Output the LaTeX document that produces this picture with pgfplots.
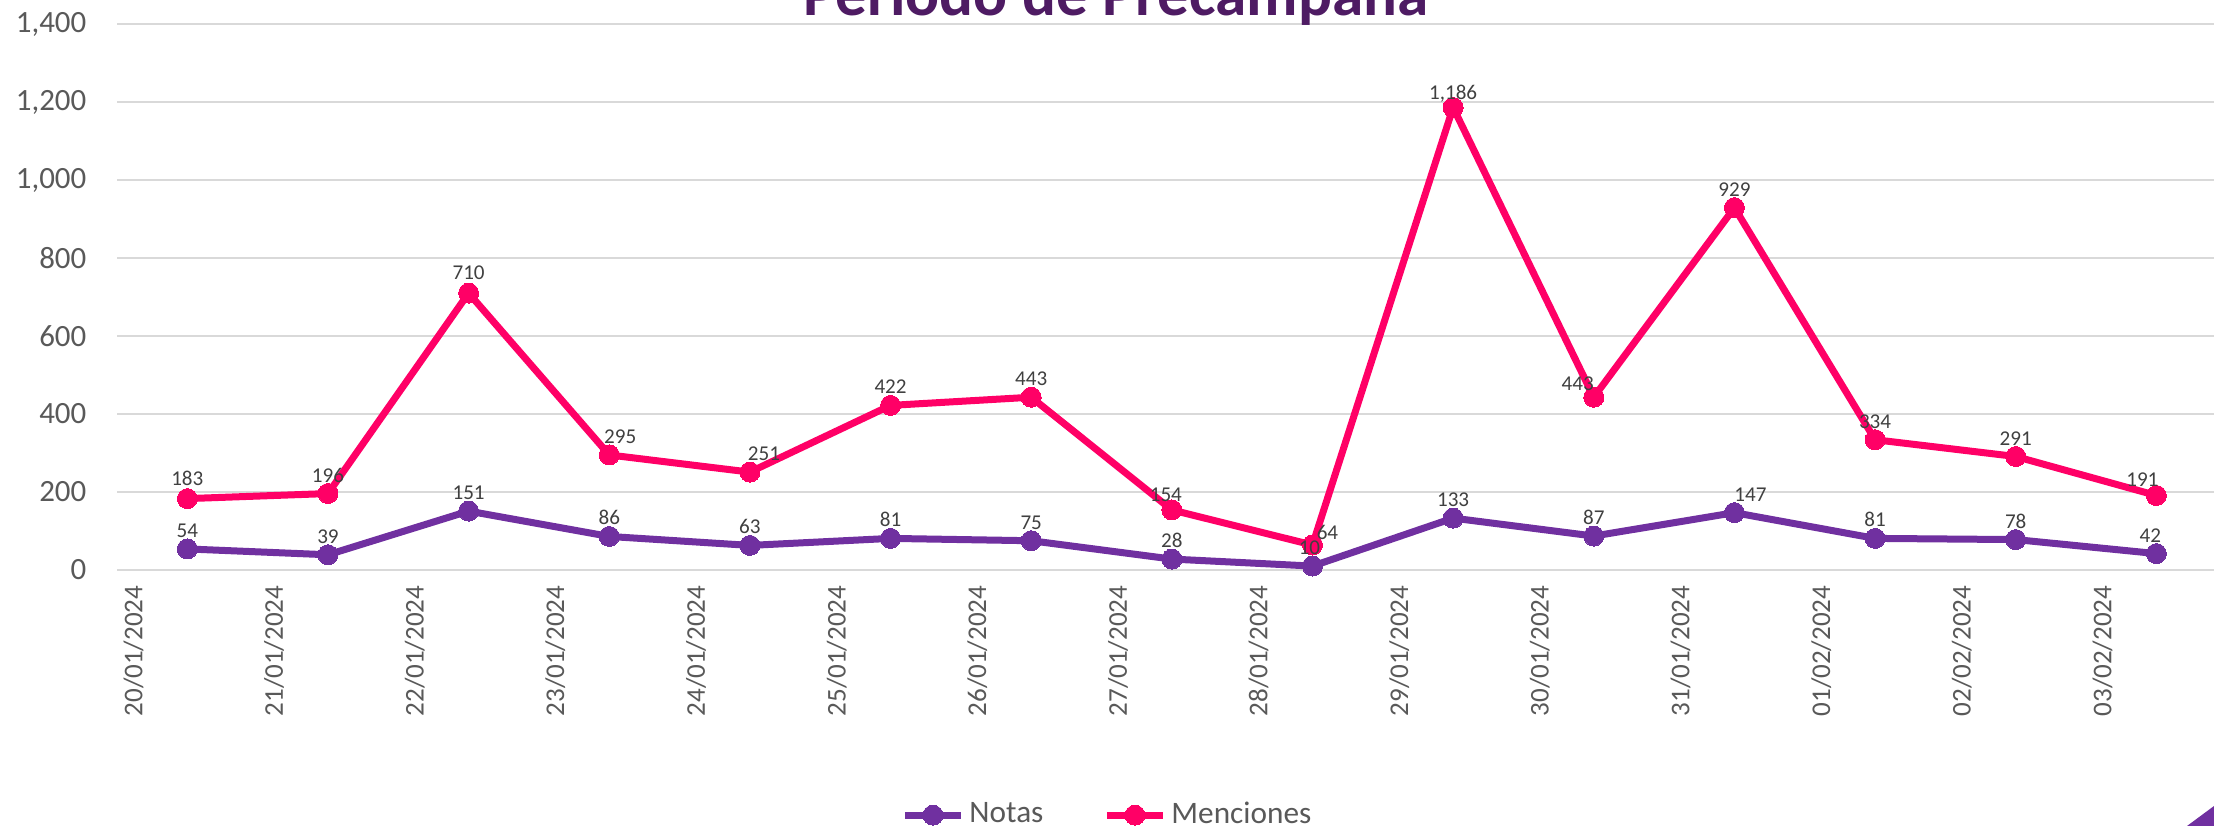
\documentclass[border=0pt]{standalone}
\usepackage{fontspec}
\setmainfont{Carlito}
\usepackage{pgfplots}
\usepackage{pgfplotstable}
\pgfplotsset{compat=1.18}
\definecolor{notas}{HTML}{7030A0}
\definecolor{menc}{HTML}{FF0066}
\definecolor{gridc}{HTML}{D9D9D9}
\definecolor{tickc}{HTML}{595959}
\definecolor{labc}{HTML}{404040}
\definecolor{titc}{HTML}{4E1B63}

\pgfplotstableread{
x y dx dy
0 54 0 0
1 39 0 0
2 151 0 0
3 86 0 0
4 63 0 0
5 81 0 0
6 75 0 0
7 28 0 0
8 10 -0.3 0
9 133 0 0
10 87 0 0
11 147 1.6 0
12 81 0 0
13 78 0 0
14 42 -0.6 0
}\notastab

\pgfplotstableread{
x y dx dy
0 183 0 0.2
1 196 0 0
2 710 0 0.2
3 295 1.1 0
4 251 1.4 0
5 422 0 0
6 443 0 0
7 154 -0.6 -0.3
8 64 1.5 -0.6
9 1186 0 -0.4
10 443 -1.6 -0.5
11 929 0 0
12 334 0 0
13 291 0 0
14 191 -1.4 -0.3
}\menctab

\begin{document}
\begin{tikzpicture}
\useasboundingbox (0,0) rectangle (221.4mm,82.6mm);
\clip (0,0) rectangle (221.4mm,82.6mm);
\begin{axis}[
  at={(11.7mm,25.6mm)}, anchor=south west,
  scale only axis, width=209.7mm, height=54.6mm,
  xmin=-0.5, xmax=14.41, ymin=0, ymax=1400,
  axis line style={draw=none},
  major tick length=0pt,
  ytick={0,200,...,1400},
  ymajorgrids, grid style={gridc, line width=0.2mm},
  xtick={-0.383,0.617,1.617,2.617,3.617,4.617,5.617,6.617,7.617,8.617,9.617,10.617,11.617,12.617,13.617},
  xticklabels={20/01/2024,21/01/2024,22/01/2024,23/01/2024,24/01/2024,25/01/2024,26/01/2024,27/01/2024,28/01/2024,29/01/2024,30/01/2024,31/01/2024,01/02/2024,02/02/2024,03/02/2024},
  /pgf/number format/.cd, 1000 sep={,}, assume math mode=true, /pgfplots/.cd,
  tick label style={inner sep=0pt, color=tickc},
  x tick label style={rotate=90, anchor=east, font=\fontsize{7.7}{8}\selectfont},
  xticklabel shift=1.5mm,
  y tick label style={font=\fontsize{8.8}{10}\selectfont},
  yticklabel shift=3mm,
  legend style={at={(0.473,-0.449)}, anchor=center, draw=none, fill=none,
    legend columns=2, font=\fontsize{8.9}{10}\selectfont, text=tickc,
    /tikz/every even column/.append style={column sep=5.5mm}, inner sep=0pt,
    nodes={inner sep=0.5mm}},
  legend image code/.code={\draw[#1, mark repeat=2, mark phase=2] plot coordinates {(0mm,0mm) (2.8mm,0mm) (5.6mm,0mm)};},
  every node near coord/.append style={anchor=base, inner sep=0pt,
    font=\fontsize{6}{7}\selectfont, color=labc, xshift=\dx mm, yshift=1.15mm+\dy mm},
]
\addlegendimage{notas, line width=0.7mm, mark=*, mark size=1mm,
  mark options={solid, fill=notas, draw=notas, line width=0pt}}
\addlegendentry{Notas}
\addlegendimage{menc, line width=0.7mm, mark=*, mark size=1mm,
  mark options={solid, fill=menc, draw=menc, line width=0pt}}
\addlegendentry{Menciones}
\addplot[menc, line width=0.7mm, mark=*, mark size=1mm, forget plot,
  mark options={solid, fill=menc, draw=menc, line width=0pt},
  nodes near coords, point meta=explicit,
  visualization depends on={\thisrow{dx}\as\dx},
  visualization depends on={\thisrow{dy}\as\dy}]
  table[x=x, y=y, meta=y] {\menctab};
\addplot[notas, line width=0.7mm, mark=*, mark size=1mm, forget plot,
  mark options={solid, fill=notas, draw=notas, line width=0pt},
  nodes near coords, point meta=explicit,
  visualization depends on={\thisrow{dx}\as\dx},
  visualization depends on={\thisrow{dy}\as\dy}]
  table[x=x, y=y, meta=y] {\notastab};
\end{axis}
\node[anchor=base, font=\bfseries\fontsize{18}{20}\selectfont, text=titc] at (111.6mm,81.0mm) {Periodo de Precampaña};
\fill[notas] (218.7mm,0) -- (221.4mm,0) -- (221.4mm,2mm) -- cycle;
\end{tikzpicture}
\end{document}
